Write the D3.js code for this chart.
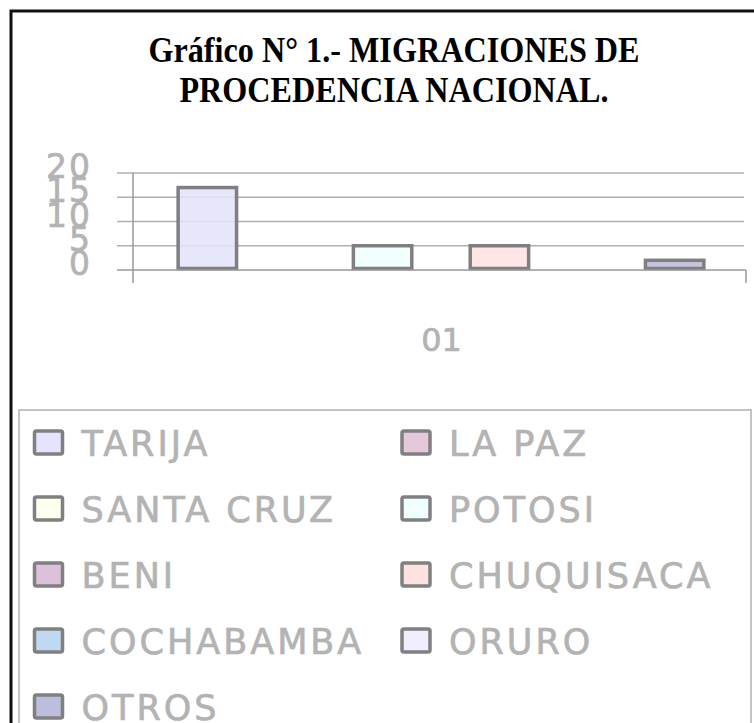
<!DOCTYPE html>
<html>
<head>
<meta charset="utf-8">
<script src="https://cdn.jsdelivr.net/npm/d3@7"></script>
<style>
    body { margin: 0; background: #fff; }
    .title { font-family: "Times New Roman", "Liberation Serif", serif; font-weight: bold; font-size: 35px; fill: #000; }
    .soft { font-family: "Comic Sans MS", "DejaVu Sans", sans-serif; fill: #b3b3b3; stroke: #b3b3b3; stroke-width: 0.7px; }
</style>
</head>
<body>
<svg id="chart" width="754" height="723"></svg>
<script>
var title_lines = ['Gráfico N° 1.- MIGRACIONES DE', 'PROCEDENCIA NACIONAL.'];
var categories = ['01'];
var series = ['TARIJA', 'LA PAZ', 'SANTA CRUZ', 'POTOSI', 'BENI', 'CHUQUISACA', 'COCHABAMBA', 'ORURO', 'OTROS'];
var values = [17, 0, 0, 5, 0, 5, 0, 0, 2];
var y_ticks = [0, 5, 10, 15, 20];
var color = d3.scaleOrdinal(series, [
    '#e4e4fc', // tarija
    '#e5c9d9', // la paz
    '#fffff0', // santa cruz
    '#eefffe', // potosi
    '#dbc1da', // beni
    '#ffe1e1', // chuquisaca
    '#bed9f1', // cochabamba
    '#efeffd', // oruro
    '#bdbddd'  // otros
]);

var svg = d3.select('#chart');

// outer frame (runs off the right edge like the source)
svg.append('rect')
    .attr('x', 11).attr('y', 11)
    .attr('width', 780).attr('height', 740)
    .attr('fill', 'none')
    .attr('stroke', '#111')
    .attr('stroke-width', 3);

// title, a bit condensed like the original
svg.append('g').selectAll('text')
    .data(title_lines)
    .enter().append('text')
    .attr('class', 'title')
    .attr('transform', function (d, i) {
        return 'translate(394,' + (62 + i * 40) + ') scale(0.92,1)';
    })
    .attr('text-anchor', 'middle')
    .text(function (d) { return d; });

var plot_left = 133, plot_right = 746, plot_top = 173, plot_bottom = 270;

var x0 = d3.scaleBand()
    .domain(categories)
    .range([plot_left, plot_right])
    .paddingInner(0)
    .paddingOuter(0.083);

var x1 = d3.scaleBand()
    .domain(series)
    .range([0, x0.bandwidth()])
    .padding(0);

var y = d3.scaleLinear()
    .domain([0, 20])
    .range([plot_bottom, plot_top]);

// gridlines
svg.append('g').selectAll('line')
    .data(y_ticks.filter(function (d) { return d > 0; }))
    .enter().append('line')
    .attr('x1', 117).attr('x2', 744)
    .attr('y1', function (d) { return y(d); })
    .attr('y2', function (d) { return y(d); })
    .attr('stroke', '#b0b0b0')
    .attr('stroke-width', 1.5);

// bars
svg.append('g').selectAll('g')
    .data(categories)
    .enter().append('g')
    .attr('transform', function (d) { return 'translate(' + x0(d) + ',0)'; })
    .selectAll('rect')
    .data(series.map(function (s, i) { return {name: s, value: values[i]}; }))
    .enter()
    .filter(function (d) { return d.value > 0; })
    .append('rect')
    .attr('x', function (d) { return x1(d.name) + 1.5; })
    .attr('y', function (d) { return y(d.value); })
    .attr('width', x1.bandwidth())
    .attr('height', function (d) { return y(0) - y(d.value) - 1.5; })
    .attr('fill', function (d) { return color(d.name); })
    .attr('fill-opacity', 0.88)
    .attr('stroke', '#7f7f7f')
    .attr('stroke-width', 3.5);

// axes
svg.append('line')
    .attr('x1', 117).attr('x2', plot_right)
    .attr('y1', y(0)).attr('y2', y(0))
    .attr('stroke', '#999').attr('stroke-width', 1.5);
svg.append('line')
    .attr('x1', plot_left).attr('x2', plot_left)
    .attr('y1', plot_top).attr('y2', 283)
    .attr('stroke', '#999').attr('stroke-width', 1.5);
svg.append('line')
    .attr('x1', plot_right).attr('x2', plot_right)
    .attr('y1', y(0)).attr('y2', 283)
    .attr('stroke', '#999').attr('stroke-width', 1.5);

svg.append('g').selectAll('text')
    .data(y_ticks)
    .enter().append('text')
    .attr('class', 'soft')
    .attr('x', 92)
    .attr('y', function (d) { return y(d) + 5; })
    .attr('text-anchor', 'end')
    .style('font-size', '33px')
    .style('letter-spacing', '2px')
    .text(function (d) { return d; });

svg.append('g').selectAll('text')
    .data(categories)
    .enter().append('text')
    .attr('class', 'soft')
    .attr('x', function (d) { return x0(d) + x0.bandwidth() / 2 + 2; })
    .attr('y', 351)
    .attr('text-anchor', 'middle')
    .style('font-size', '32px')
    .text(function (d) { return d; });

// legend
svg.append('rect')
    .attr('x', 19).attr('y', 410)
    .attr('width', 732).attr('height', 340)
    .attr('fill', 'none')
    .attr('stroke', '#b0b0b0')
    .attr('stroke-width', 1.5);

var legend = svg.selectAll('.legend')
    .data(series)
    .enter().append('g')
    .attr('class', 'legend')
    .attr('transform', function (d, i) {
        var horz = (i % 2) ? 402 : 34.5;
        var vert = 431 + Math.floor(i / 2) * 66;
        return 'translate(' + horz + ',' + vert + ')';
    });

legend.append('rect')
    .attr('width', 28)
    .attr('height', 23)
    .attr('rx', 2)
    .attr('fill', color)
    .attr('stroke', '#808080')
    .attr('stroke-width', 3.5);

legend.append('text')
    .attr('class', 'soft')
    .attr('x', 47)
    .attr('y', 25)
    .style('font-size', '35px')
    .style('letter-spacing', '3px')
    .text(function (d) { return d; });
</script>
</body>
</html>
